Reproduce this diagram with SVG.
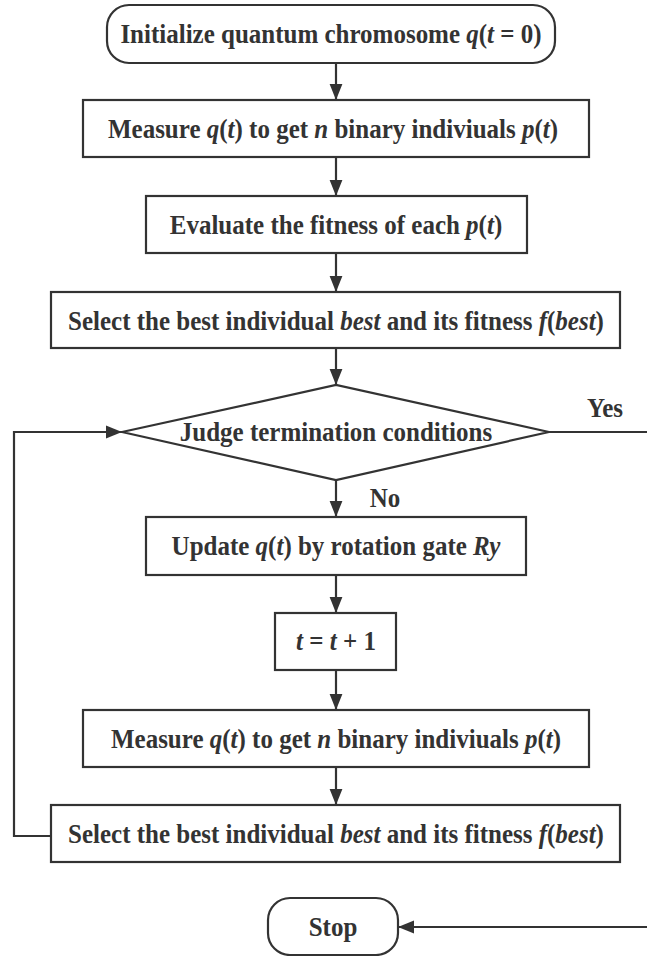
<svg xmlns="http://www.w3.org/2000/svg" width="647" height="956" viewBox="0 0 647 956">
<style>
.b{fill:#fff;stroke:#333;stroke-width:2.2}
.t{font-family:"Liberation Serif","Times New Roman",serif;font-weight:bold;font-size:25px;fill:#333;text-anchor:middle}
.i{font-style:italic}
.c{fill:none;stroke:#333;stroke-width:2.2}
</style>
<defs>
<marker id="ah" viewBox="0 0 10 10" refX="10" refY="5" markerWidth="16" markerHeight="16" markerUnits="userSpaceOnUse" orient="auto">
<path d="M0,1 L10,5 L0,9 z" fill="#333"/>
</marker>
</defs>
<g id="connectors">
<line class="c" x1="336" y1="63" x2="336" y2="100" marker-end="url(#ah)"/>
<line class="c" x1="336" y1="157" x2="336" y2="196" marker-end="url(#ah)"/>
<line class="c" x1="336" y1="253" x2="336" y2="292" marker-end="url(#ah)"/>
<line class="c" x1="336" y1="348" x2="336" y2="385" marker-end="url(#ah)"/>
<line class="c" x1="336" y1="480" x2="336" y2="517" marker-end="url(#ah)"/>
<line class="c" x1="336" y1="575" x2="336" y2="613" marker-end="url(#ah)"/>
<line class="c" x1="336" y1="670" x2="336" y2="710" marker-end="url(#ah)"/>
<line class="c" x1="336" y1="767" x2="336" y2="805" marker-end="url(#ah)"/>
<polyline class="c" points="51,836 14,836 14,432 122,432" marker-end="url(#ah)"/>
<line class="c" x1="549" y1="432" x2="647" y2="432"/>
<line class="c" x1="647" y1="927" x2="398" y2="927" marker-end="url(#ah)"/>
<text class="t" transform="translate(605,417) scale(1,1.1)">Yes</text>
<text class="t" transform="translate(385,507) scale(1,1.1)">No</text>
</g>
<g id="start">
<rect class="b" x="107" y="5" width="448" height="58" rx="22"/>
<text class="t" transform="translate(331,43) scale(1,1.1)">Initialize quantum chromosome <tspan class="i">q</tspan>(<tspan class="i">t</tspan> = 0)</text>
</g>
<g id="measure1">
<rect class="b" x="83" y="100" width="506" height="57"/>
<text class="t" transform="translate(333,137.5) scale(1,1.1)">Measure <tspan class="i">q</tspan>(<tspan class="i">t</tspan>) to get <tspan class="i">n</tspan> binary indiviuals <tspan class="i">p</tspan>(<tspan class="i">t</tspan>)</text>
</g>
<g id="evaluate">
<rect class="b" x="146" y="196" width="381" height="57"/>
<text class="t" transform="translate(336,233.5) scale(1,1.1)">Evaluate the fitness of each <tspan class="i">p</tspan>(<tspan class="i">t</tspan>)</text>
</g>
<g id="select1">
<rect class="b" x="51" y="292" width="569" height="56"/>
<text class="t" transform="translate(336,329.5) scale(1,1.1)">Select the best individual <tspan class="i">best</tspan> and its fitness <tspan class="i">f</tspan>(<tspan class="i">best</tspan>)</text>
</g>
<g id="judge">
<polygon class="b" points="122,432 336,385 549,432 336,480"/>
<text class="t" transform="translate(336,441) scale(1,1.1)">Judge termination conditions</text>
</g>
<g id="update">
<rect class="b" x="146" y="517" width="380" height="58"/>
<text class="t" transform="translate(336,555) scale(1,1.1)">Update <tspan class="i">q</tspan>(<tspan class="i">t</tspan>) by rotation gate <tspan class="i">Ry</tspan></text>
</g>
<g id="increment">
<rect class="b" x="275" y="613" width="121" height="57"/>
<text class="t" transform="translate(336,650) scale(1,1.1)"><tspan class="i">t</tspan> = <tspan class="i">t</tspan> + 1</text>
</g>
<g id="measure2">
<rect class="b" x="83" y="710" width="506" height="57"/>
<text class="t" transform="translate(336,747.5) scale(1,1.1)">Measure <tspan class="i">q</tspan>(<tspan class="i">t</tspan>) to get <tspan class="i">n</tspan> binary indiviuals <tspan class="i">p</tspan>(<tspan class="i">t</tspan>)</text>
</g>
<g id="select2">
<rect class="b" x="51" y="805" width="569" height="57"/>
<text class="t" transform="translate(336,842.5) scale(1,1.1)">Select the best individual <tspan class="i">best</tspan> and its fitness <tspan class="i">f</tspan>(<tspan class="i">best</tspan>)</text>
</g>
<g id="stop">
<rect class="b" x="268" y="898" width="130" height="57" rx="22"/>
<text class="t" transform="translate(333,935.5) scale(1,1.1)">Stop</text>
</g>
</svg>
